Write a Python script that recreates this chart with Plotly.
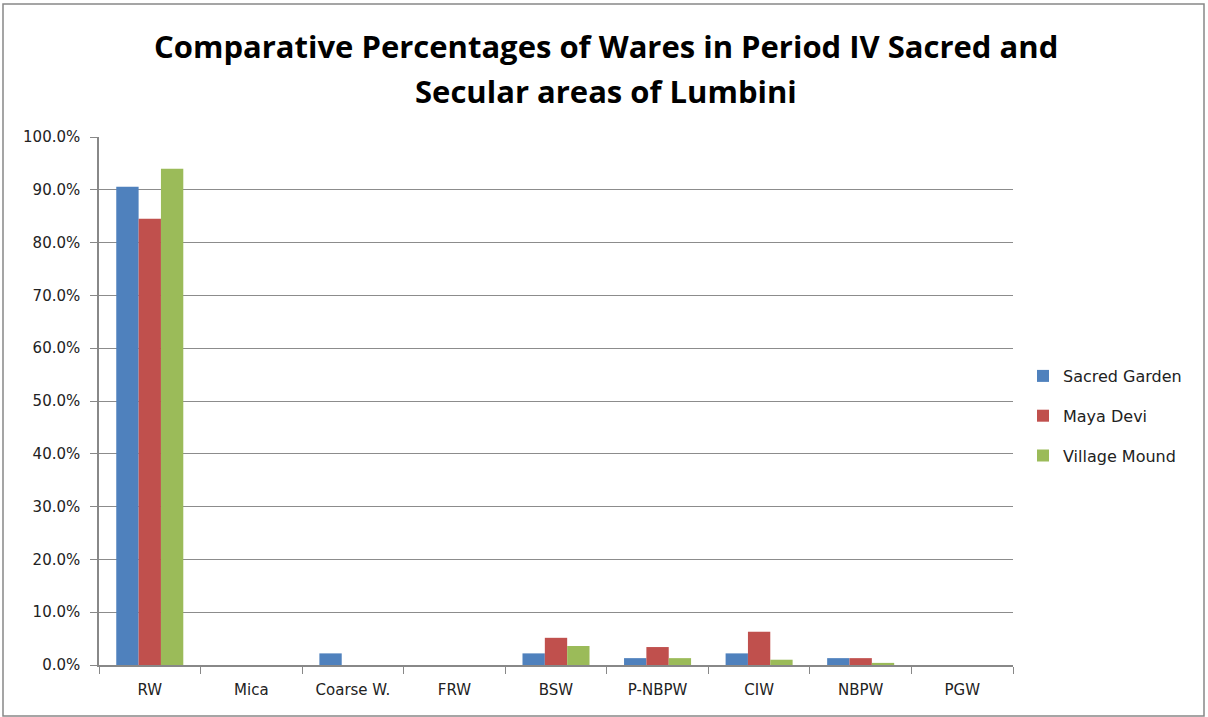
import plotly.graph_objects as go

categories = ["RW", "Mica", "Coarse W.", "FRW", "BSW", "P-NBPW", "CIW", "NBPW", "PGW"]
sacred_garden = [90.6, 0.0, 2.2, 0.0, 2.2, 1.3, 2.2, 1.3, 0.0]
maya_devi = [84.5, 0.0, 0.0, 0.0, 5.15, 3.4, 6.3, 1.3, 0.0]
village_mound = [94.0, 0.0, 0.0, 0.0, 3.6, 1.3, 1.0, 0.4, 0.0]

title_lines = ["Comparative Percentages of Wares in Period IV Sacred and",
               "Secular areas of Lumbini"]

series = [
    ("Sacred Garden", sacred_garden, "#4F81BD"),
    ("Maya Devi", maya_devi, "#C0504D"),
    ("Village Mound", village_mound, "#9BBB59"),
]

text_font = "DejaVu Sans, sans-serif"
title_font = "Open Sans, sans-serif"

fig = go.Figure()
for name, vals, color in series:
    fig.add_trace(go.Bar(
        x=categories, y=vals, name=name, legendgroup=name,
        marker=dict(color=color, line=dict(width=0)),
    ))

W, H = 1208, 717
ml, mr, mt, mb = 99, 195, 137, 52
pw, ph = W - ml - mr, H - mt - mb

def px_x(x):
    return (x - ml) / pw

def px_y(y):
    return (H - mb - y) / ph

annotations = [
    dict(text=line, xref="paper", yref="paper", x=px_x(606), y=px_y(yc),
         xanchor="center", yanchor="middle", showarrow=False,
         font=dict(family=title_font, size=31, color="black", weight="bold"))
    for line, yc in zip(title_lines, [46, 91])
]

fig.update_layout(
    width=W, height=H,
    margin=dict(l=ml, r=mr, t=mt, b=mb),
    paper_bgcolor="white", plot_bgcolor="white",
    barmode="group", bargap=0.34, bargroupgap=0,
    font=dict(family=text_font, size=15, color="#222"),
    legend=dict(
        x=px_x(1023), xanchor="left", y=px_y(416), yanchor="middle",
        font=dict(family=text_font, size=16, color="#222"), tracegroupgap=16,
        itemwidth=30,
    ),
    xaxis=dict(
        type="category", showgrid=False,
        showline=True, linecolor="#888", linewidth=1.5,
        ticks="outside", tickson="boundaries", ticklen=7, tickcolor="#888",
        tickfont=dict(family=text_font, size=15, color="#222"),
        ticklabelstandoff=10,
    ),
    yaxis=dict(
        range=[0, 100], dtick=10, ticksuffix="%", tickformat=".1f",
        showgrid=True, gridcolor="#8c8c8c", gridwidth=1.2,
        showline=True, linecolor="#888", linewidth=1.5,
        ticks="outside", ticklen=7, tickcolor="#888",
        tickfont=dict(family=text_font, size=15, color="#222"),
        ticklabelstandoff=7,
        zeroline=False,
    ),
    annotations=annotations,
    shapes=[dict(
        type="rect", xref="paper", yref="paper",
        x0=px_x(3), x1=px_x(1204), y0=px_y(716), y1=px_y(4),
        line=dict(color="#888", width=1.5), fillcolor="rgba(0,0,0,0)",
    )],
)

fig.write_html("out.html")
